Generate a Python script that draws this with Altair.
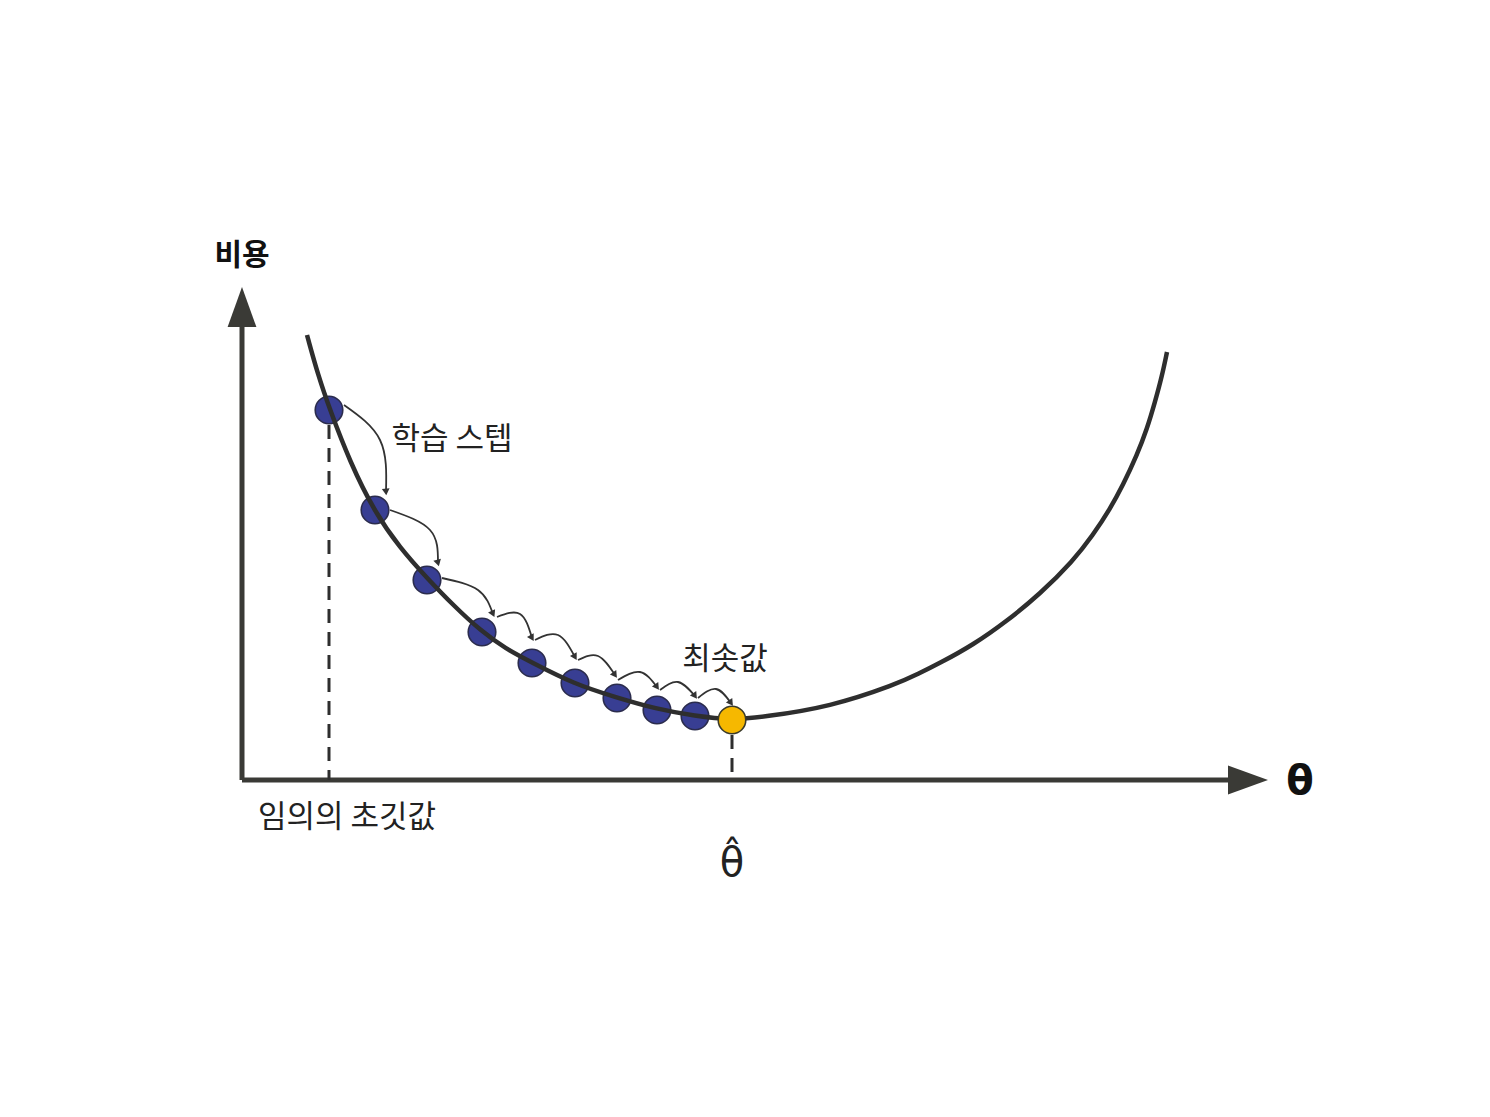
import altair as alt
import pandas as pd

# units: theta to the right of the origin, cost above it
curve_theta = [0.65, 0.76, 0.88, 1.08, 1.32, 1.58, 1.85, 2.12, 2.39, 2.64, 2.89, 3.32,
               3.73, 4.14, 4.53, 4.90, 5.21, 5.88, 6.55, 6.76, 6.98, 7.31, 7.65, 7.98,
               8.31, 8.51, 8.68, 8.81, 8.95, 9.05, 9.13, 9.20, 9.25]
curve_cost = [4.45, 4.05, 3.70, 3.18, 2.69, 2.32, 2.02, 1.74, 1.49, 1.31, 1.18, 0.96,
              0.83, 0.71, 0.64, 0.60, 0.63, 0.73, 0.96, 1.06, 1.17, 1.35, 1.59, 1.86,
              2.19, 2.45, 2.71, 2.95, 3.25, 3.51, 3.78, 4.04, 4.28]

step_theta = [0.87, 1.33, 1.85, 2.40, 2.90, 3.33, 3.75, 4.15, 4.53]
step_cost = [3.70, 2.70, 2.00, 1.48, 1.17, 0.97, 0.82, 0.70, 0.64]
min_theta = 4.90
min_cost = 0.60

# each arc: start, bulge, end (arrow tip)
arc_theta = [[1.02, 1.38, 1.44], [1.48, 1.88, 1.96], [2.00, 2.36, 2.51],
             [2.55, 2.78, 2.90], [2.93, 3.16, 3.33], [3.36, 3.56, 3.73],
             [3.76, 3.98, 4.15], [4.18, 4.36, 4.53], [4.56, 4.74, 4.89]]
arc_cost = [[3.75, 3.40, 2.88], [2.70, 2.50, 2.17], [2.02, 1.90, 1.66],
            [1.63, 1.66, 1.42], [1.40, 1.45, 1.23], [1.20, 1.24, 1.05],
            [1.00, 1.08, 0.93], [0.90, 0.98, 0.84], [0.82, 0.91, 0.77]]
arc_angle = [355, 345, 335, 330, 330, 325, 325, 325, 325]

x_axis_end = 9.9
y_axis_end = 4.6

labels = ["학습 스텝", "최솟값", "임의의 초깃값"]
label_theta = [2.10, 4.83, 1.05]
label_cost = [3.40, 1.20, -0.38]

AXIS_COL = "#3a3a36"
CURVE_COL = "#2e2e2e"
KR_FONT = "Noto Sans CJK KR"

xs = alt.Scale(domain=[-2.34, 12.40], nice=False, zero=False)
ys = alt.Scale(domain=[-3.28, 7.72], nice=False, zero=False)


def X(field="theta"):
    return alt.X(f"{field}:Q", scale=xs, axis=None)


def Y(field="cost"):
    return alt.Y(f"{field}:Q", scale=ys, axis=None)


curve_df = pd.DataFrame({"theta": curve_theta, "cost": curve_cost})
steps_df = pd.DataFrame({"theta": step_theta, "cost": step_cost})
min_df = pd.DataFrame({"theta": [min_theta], "cost": [min_cost]})

arc_rows = []
head_rows = []
for i, (ts, cs) in enumerate(zip(arc_theta, arc_cost)):
    for k, (t, c) in enumerate(zip(ts, cs)):
        arc_rows.append({"arc": i, "order": k, "theta": t, "cost": c})
    head_rows.append({"theta": ts[-1], "cost": cs[-1], "angle": arc_angle[i]})
arc_df = pd.DataFrame(arc_rows)
head_df = pd.DataFrame(head_rows)

axes_df = pd.DataFrame({
    "axis": ["x", "x", "y", "y"],
    "theta": [0, x_axis_end, 0, 0],
    "cost": [0, 0, 0, y_axis_end],
})

dash_df = pd.DataFrame({
    "theta": [step_theta[0], min_theta],
    "cost": [step_cost[0] - 0.15, min_cost - 0.15],
    "cost0": [0, 0],
})

axes = alt.Chart(axes_df).mark_line(color=AXIS_COL, strokeWidth=5).encode(
    x=X(), y=Y(), detail="axis:N"
)

x_head = alt.Chart(pd.DataFrame({"theta": [x_axis_end + 0.16], "cost": [0]})).mark_point(
    shape="M1,0L-1,-0.72L-1,0.72Z", size=1600, filled=True, color=AXIS_COL, opacity=1
).encode(x=X(), y=Y())

y_head = alt.Chart(pd.DataFrame({"theta": [0], "cost": [y_axis_end + 0.13]})).mark_point(
    shape="M0,-1L-0.72,1L0.72,1Z", size=1600, filled=True, color=AXIS_COL, opacity=1
).encode(x=X(), y=Y())

dashes = alt.Chart(dash_df).mark_rule(
    color=CURVE_COL, strokeWidth=3, strokeDash=[14, 9]
).encode(x=X(), y=Y(), y2="cost0:Q")

curve = alt.Chart(curve_df).mark_line(
    color=CURVE_COL, strokeWidth=4.5, interpolate="basis"
).encode(x=X(), y=Y())

steps = alt.Chart(steps_df).mark_circle(
    size=760, color="#232a88", opacity=0.9, stroke="#15163a", strokeWidth=1.6
).encode(x=X(), y=Y())

minimum = alt.Chart(min_df).mark_circle(
    size=760, color="#f6b800", opacity=1, stroke="#3a3a2a", strokeWidth=1.6
).encode(x=X(), y=Y())

arcs = alt.Chart(arc_df).mark_line(
    color="#333333", strokeWidth=1.8, interpolate="natural"
).encode(x=X(), y=Y(), detail="arc:N", order="order:Q")

heads = alt.Chart(head_df).mark_point(
    shape="triangle-down", size=60, filled=True, color="#333333", opacity=1
).encode(x=X(), y=Y(), angle=alt.Angle("angle:Q", scale=None))

label_df = pd.DataFrame({"text": labels, "theta": label_theta, "cost": label_cost})
label_text = alt.Chart(label_df).mark_text(
    font=KR_FONT, fontSize=31, color="#222", align="center", baseline="middle"
).encode(x=X(), y=Y(), text="text:N")

cost_title = alt.Chart(pd.DataFrame({"text": ["비용"], "theta": [0], "cost": [5.24]})).mark_text(
    font=KR_FONT, fontSize=30, fontWeight="bold", color="#111", baseline="middle"
).encode(x=X(), y=Y(), text="text:N")

theta_title = alt.Chart(pd.DataFrame({"text": ["θ"], "theta": [10.58], "cost": [-0.02]})).mark_text(
    font="DejaVu Sans", fontSize=40, fontWeight="bold", color="#111", baseline="middle"
).encode(x=X(), y=Y(), text="text:N")

theta_hat = alt.Chart(pd.DataFrame({"text": ["θ\u0302"], "theta": [min_theta], "cost": [-0.84]})).mark_text(
    font="DejaVu Sans", fontSize=40, color="#222", baseline="middle"
).encode(x=X(), y=Y(), text="text:N")

chart = alt.layer(
    axes, x_head, y_head, dashes, steps, curve, minimum, arcs, heads,
    label_text, cost_title, theta_title, theta_hat
).properties(
    width=1474, height=1100, padding=0, autosize=alt.AutoSizeParams(type="none"),
    background="white"
).configure_view(stroke=None)

chart.save("out.html", embed_options={"renderer": "svg", "actions": False})
